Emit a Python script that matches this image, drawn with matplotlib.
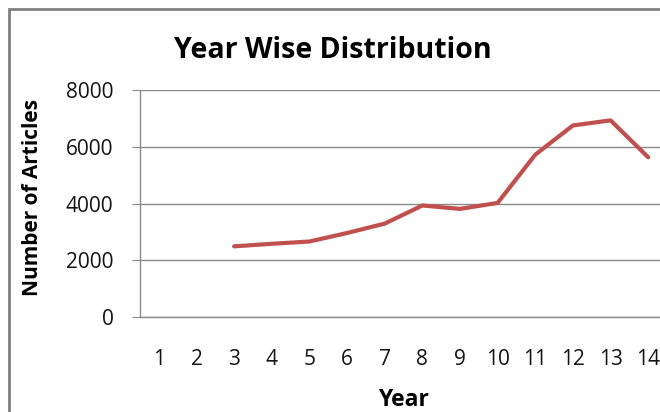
import matplotlib
matplotlib.use("Agg")
import matplotlib.pyplot as plt
from matplotlib.patches import Rectangle

years = list(range(1, 15))
article_years = [3, 4, 5, 6, 7, 8, 9, 10, 11, 12, 13, 14]
articles = [2490, 2580, 2660, 2960, 3290, 3930, 3810, 4020, 5720, 6750, 6930, 5630]
y_ticks = [0, 2000, 4000, 6000, 8000]

W, H = 660, 412
FONT = "Open Sans"
fig = plt.figure(figsize=(W / 100, H / 100), dpi=100)
fig.patch.set_facecolor("white")

# outer chart frame (cropped at right/bottom)
fig.add_artist(Rectangle((8.5 / W, -0.1), 2.0, 1 - 8.5 / H + 0.1, transform=fig.transFigure,
                         fill=False, edgecolor="#808080", linewidth=2.0))

ax = fig.add_axes([140 / W, 1 - 317 / H, (667 - 140) / W, (317 - 90) / H])
ax.plot(article_years, articles, color="#C0504D", linewidth=3.0, solid_capstyle="round")
ax.set_xlim(0.5, 14.5)
ax.set_ylim(0, 8000)
ax.set_xticks(years)
ax.set_xticklabels([str(y) for y in years])
ax.set_yticks(y_ticks)
ax.grid(axis="y", color="#8a8a8a", linewidth=1.0)
ax.set_axisbelow(True)
for s in ["top", "right"]:
    ax.spines[s].set_visible(False)
for s in ["left", "bottom"]:
    ax.spines[s].set_color("#8a8a8a")
    ax.spines[s].set_linewidth(1.0)
ax.tick_params(axis="x", length=0, pad=23, labelsize=15, labelcolor="#141414")
ax.tick_params(axis="y", length=6, color="#8a8a8a", pad=13, labelsize=15, labelcolor="#141414")
for lab in ax.get_xticklabels() + ax.get_yticklabels():
    lab.set_family(FONT)

fig.text(333 / W, 1 - 58 / H, "Year Wise Distribution", ha="center", va="baseline",
         fontsize=20.5, fontweight="bold", family=FONT)
fig.text(33 / W, 1 - 197 / H, "Number of Articles", ha="center", va="center",
         rotation=90, fontsize=15, fontweight="bold", family=FONT)
fig.text(403 / W, 1 - 406 / H, "Year", ha="center", va="baseline",
         fontsize=16.5, fontweight="bold", family=FONT)

fig.savefig("out.png", dpi=100)
